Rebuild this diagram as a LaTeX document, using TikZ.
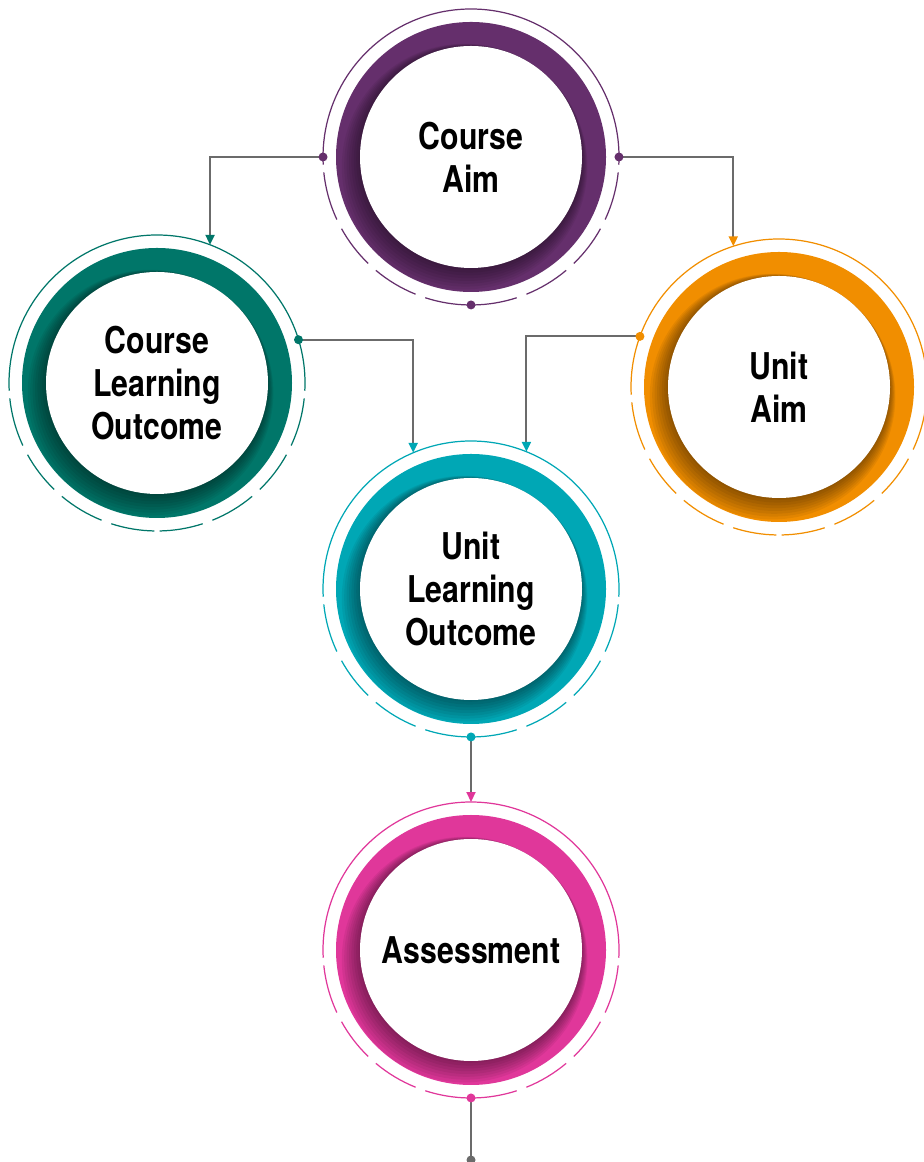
\documentclass[tikz,border=0pt]{standalone}
\usepackage{fontspec}
\usetikzlibrary{arrows.meta}
\newfontfamily\ringfont[FakeStretch=0.82]{TeX Gyre Heros}
\definecolor{caPurple}{HTML}{652F6C}
\definecolor{cloTeal}{HTML}{007669}
\definecolor{uaOrange}{HTML}{F18E00}
\definecolor{uloCyan}{HTML}{00A7B5}
\definecolor{asPink}{HTML}{E0379A}
\definecolor{linkGray}{HTML}{6B6B6B}
\begin{document}
\begin{tikzpicture}[x=0.02cm,y=0.02cm,
  ringtext/.style={circle,minimum size=5.92cm,inner sep=0pt,outer sep=0pt,align=center,
    font=\ringfont\bfseries\fontsize{21}{24.5}\selectfont},
  thinring/.style={line width=0.7pt},
  link/.style={linkGray,line width=1.15pt},
  tip/.style={-{Triangle[color=#1,length=0.2cm,width=0.18cm]}}]
\useasboundingbox (0,0) rectangle (923,1162);
% circles
\foreach \nm/\cx/\cy/\col/\txt in {
  ca/471/1005/caPurple/{Course\\Aim},
  clo/157/779/cloTeal/{Course\\Learning\\Outcome},
  ua/779/775/uaOrange/{Unit\\Aim},
  ulo/471/573/uloCyan/{Unit\\Learning\\Outcome},
  as/471/212/asPink/{Assessment}}{
  \fill[\col] (\cx,\cy) circle[radius=135];
  \foreach \k in {1,...,8}
    \fill[black,opacity=0.06] (\cx-\k*0.8,\cy-\k*1.2) circle[radius=110+\k*1.6];
  \fill[white] (\cx,\cy) circle[radius=111];
  \draw[\col,thinring] (\cx,\cy) ++(-3:148) arc[start angle=-3,end angle=183,radius=148];
  \foreach \a/\b in {-25/-6,-46/-29,-68/-50,-89/-72,-108/-91,-130/-112,-151/-134,-174/-155}
    \draw[\col,thinring] (\cx,\cy) ++(\a:148) arc[start angle=\a,end angle=\b,radius=148];
  \node[ringtext] (\nm) at (\cx,\cy) {\txt};
}
\coordinate (end) at (471,2);
% connectors
\draw[link,tip=cloTeal] (ca.180) -| (clo.69);
\draw[link,tip=uaOrange] (ca.0) -| (ua.108);
\draw[link,tip=uloCyan] (clo.17) -| (ulo.113);
\draw[link,tip=uloCyan] (ua.160) -| (ulo.68);
\draw[link,tip=asPink] (ulo.south) -- (as.north);
\draw[link] (as.south) -- (end);
% dots
\fill[caPurple] (ca.180) circle[radius=4.5] (ca.0) circle[radius=4.5] (ca.south) circle[radius=4.5];
\fill[cloTeal] (clo.17) circle[radius=4.5];
\fill[uaOrange] (ua.160) circle[radius=4.5];
\fill[uloCyan] (ulo.south) circle[radius=4.5];
\fill[asPink] (as.south) circle[radius=4.5];
\fill[linkGray] (end) circle[radius=4.5];
\end{tikzpicture}
\end{document}
